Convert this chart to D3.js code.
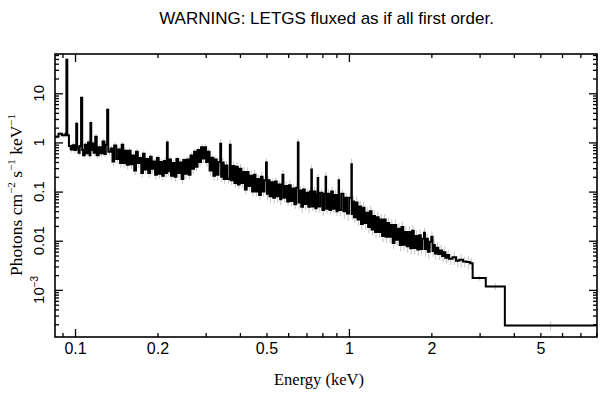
<!DOCTYPE html>
<html><head><meta charset="utf-8">
<script src="https://cdn.jsdelivr.net/npm/d3@7"></script>
<style>body{margin:0;background:#fff}svg{display:block}</style>
</head><body>
<svg id="c" width="609" height="399"></svg>
<script>
// Bin lower edges (keV)
const energy = [
0.0845,0.0870,0.0896,0.0923,0.0930,0.0937,0.0950,0.0965,0.0980,0.0995,
0.1010,0.1018,0.1030,0.1040,0.1052,0.1062,0.107,0.1085,0.110,0.1115,
0.113,0.1138,0.1146,0.1158,0.117,0.1185,0.120,0.122,0.124,0.126,
0.128,0.1295,0.131,0.1322,
0.135,0.137,0.139,0.1415,0.144,0.146,0.148,0.150,0.152,0.1545,
0.157,0.1595,0.162,0.1645,0.167,0.1695,0.172,0.1745,0.177,0.1795,
0.182,0.185,0.188,0.1905,0.193,0.196,0.199,0.202,0.205,0.208,
0.211,0.2140,0.2165,0.2180,0.221,0.224,0.2275,0.231,0.2345,0.238,
0.2415,0.245,0.2485,0.252,0.256,0.260,0.264,0.268,0.272,0.276,
0.280,0.284,0.2885,0.293,0.297,0.301,0.3055,0.310,0.315,0.320,
0.3245,0.329,0.334,0.339,0.3415,0.345,0.349,0.3545,0.360,0.3675,
0.3700,0.376,0.382,0.3875,0.393,0.399,0.405,0.411,0.417,0.4235,
0.430,0.4365,0.443,0.4495,0.456,0.463,0.470,0.477,0.484,0.491,
0.498,0.5015,0.507,0.513,0.521,0.529,0.537,0.545,0.553,0.561,
0.5665,0.572,0.5765,0.5855,0.595,0.604,0.613,0.6225,0.632,0.6415,
0.651,0.6545,0.662,0.670,0.680,0.690,0.7005,0.711,0.720,0.729,
0.7325,0.743,0.754,0.7615,0.769,0.7725,0.786,0.800,0.811,0.822,
0.8255,0.837,0.849,0.8615,0.874,0.8875,0.901,0.909,0.917,0.9205,
0.9375,0.955,0.9695,0.984,1.002,1.021,1.025,1.0345,1.044,1.0595,
1.075,1.091,1.107,1.1235,1.140,1.1575,1.175,1.1925,1.210,1.228,
1.246,1.265,1.284,1.303,1.322,1.342,1.362,1.3825,1.403,1.424,
1.445,1.4665,1.488,1.5105,1.533,1.556,1.579,1.6025,1.626,1.6505,
1.675,1.70,1.725,1.751,1.777,1.8035,1.830,1.855,1.880,1.895,
1.9185,1.942,1.971,2.000,2.020,2.04,2.06,2.09,2.12,2.155,
2.19,2.22,2.25,2.285,2.32,2.39,2.46,2.53,2.61,2.69,
2.77,2.83,3.16,3.71];
const energyEnd = 8.0;
// Flux (Photons cm^-2 s^-1 keV^-1)
const flux = [
1.3,1.5,1.4,1.5,48,1.4,0.85,0.72,0.88,0.7,
2.4,0.8,0.62,0.85,8.1,0.7,0.55,0.9,0.6,1.0,
0.55,2.5,0.7,0.95,0.62,1.3,0.55,0.8,0.6,1.05,
0.58,0.9,4.6,0.65,
.75,.41,.87,.46,.72,.38,.9,.38,.68,.35,
.68,.36,.54,.27,.65,.38,.48,.24,.59,.28,
.46,.24,.51,.29,.41,.22,.48,.23,.4,.21,
.42,.24,1.0,.26,.45,.21,.38,.2,.46,.24,
.39,.18,.44,.23,.45,.22,.54,.29,.65,.32,
.7,.4,.8,.47,.8,.4,.65,.27,.49,.21,
.45,.22,.4,.94,.2,.39,.18,.34,.18,.9,
.17,.33,.15,.32,.14,.29,.15,.25,.11,.25,
.13,.21,.1,.22,.1,.18,.085,.2,.1,.17,
.39,.09,.17,.08,.155,.075,.16,.08,.14,.07,
.14,.22,.075,.13,.063,.135,.064,.115,.055,.12,
1.0,.06,.105,.049,.11,.056,.095,.049,.1,.28,
.05,.1,.046,.088,.19,.05,.095,.042,.09,.2,
.045,.09,.042,.1,.045,.085,.04,.085,.17,.042,
.09,.04,.075,.036,.075,.36,.035,.063,.03,.06,
.027,.05,.022,.047,.023,.037,.019,.04,.017,.032,
.015,.03,.015,.027,.0125,.027,.012,.023,.012,.021,
.009,.021,.0105,.0175,.0082,.019,.0083,.015,.0077,.015,
.007,.016,.0071,.0125,.0066,.013,.0068,.011,.0146,.0068,
.011,.006,.0095,.012,.0062,.0082,.0055,.0072,.0054,.0063,
.0049,.0058,.0045,.0051,.0043,.0046,.0039,.0041,.0038,.0037,
.0035,.00175,.00117,.000188];
// Relative 1-sigma errors
const relErr = [
.12,.12,.12,.12,.05,.12,.15,.15,.15,.15,
.12,.15,.15,.15,.05,.15,.15,.15,.15,.15,
.15,.12,.15,.15,.15,.15,.15,.15,.15,.15,
.15,.15,.08,.15,
.15,.2,.15,.2,.15,.2,.15,.2,.15,.2,
.15,.2,.15,.2,.15,.2,.15,.2,.15,.2,
.15,.2,.15,.2,.15,.2,.15,.2,.15,.2,
.15,.2,.15,.2,.15,.2,.15,.2,.15,.2,
.15,.2,.15,.2,.15,.2,.15,.2,.15,.2,
.15,.2,.15,.2,.15,.2,.15,.2,.15,.2,
.2,.25,.2,.25,.2,.25,.2,.25,.2,.25,
.2,.25,.2,.25,.2,.25,.2,.25,.2,.25,
.2,.25,.2,.25,.2,.25,.2,.25,.2,.25,
.2,.25,.2,.25,.2,.25,.2,.25,.2,.25,
.2,.25,.2,.25,.2,.25,.2,.25,.2,.25,
.2,.25,.2,.25,.2,.25,.2,.25,.2,.25,
.2,.25,.2,.25,.2,.25,.2,.25,.2,.25,
.2,.25,.2,.25,.2,.25,.2,.25,.2,.25,
.25,.3,.25,.3,.25,.3,.25,.3,.25,.3,
.25,.3,.25,.3,.25,.3,.25,.3,.25,.3,
.25,.3,.25,.3,.25,.3,.25,.3,.25,.3,
.25,.3,.25,.3,.25,.3,.25,.3,.25,.3,
.25,.3,.25,.3,.25,.3,.25,.3,.25,.3,
.25,.3,.25,.3,.25,.3,.25,.3,.25,.3,
.25,.3,.25,.3,.25,.3,.25,.3,.25,.3,
.25,.12,.15,.2];

const xLabelTicks = [0.1, 0.2, 0.5, 1, 2, 5];
const xMajorTicks = [0.1, 1];
const yLabelTicks = [1e-3, 0.01, 0.1, 1, 10];
const yLabelText = [["10","\u22123"], ["0.01"], ["0.1"], ["1"], ["10"]];
const titleText = "WARNING: LETGS fluxed as if all first order.";
const xTitle = "Energy (keV)";

const L = 55, R = 597, T = 54, B = 337;
const svg = d3.select("#c");
const x = d3.scaleLog().domain([0.0845, 8.05]).range([L, R]);
const y = d3.scaleLog().domain([1.1e-4, 63]).range([B, T]);

const SANS = "'Liberation Sans', Arial, Helvetica, sans-serif";
const SERIF = "'Liberation Serif', 'Times New Roman', serif";

// error bars
const bins = energy.map((e, i) => ({
  lo: e, hi: i < energy.length - 1 ? energy[i + 1] : energyEnd, v: flux[i], r: relErr[i]
}));
svg.append("g").selectAll("line").data(bins).join("line")
  .attr("x1", d => x(Math.sqrt(d.lo * d.hi))).attr("x2", d => x(Math.sqrt(d.lo * d.hi)))
  .attr("y1", d => y(d.v * (1 - d.r))).attr("y2", d => y(d.v * (1 + d.r)))
  .attr("stroke", "#c4c4c4").attr("stroke-width", 1);

// step spectrum
const pts = energy.map((e, i) => [e, flux[i]]);
pts.push([energyEnd, flux[flux.length - 1]]);
const line = d3.line().x(d => x(d[0])).y(d => y(d[1])).curve(d3.curveStepAfter);
svg.append("path").attr("d", line(pts)).attr("fill", "none")
  .attr("stroke", "#000").attr("stroke-width", 2).attr("stroke-linejoin", "miter");

// ticks
const isDecade = v => Math.abs(Math.log10(v) - Math.round(Math.log10(v))) < 1e-6;
const xMinor = x.ticks().filter(v => !xMajorTicks.some(m => Math.abs(m - v) < 1e-9));
const yAll = y.ticks();
const yMajor = yAll.filter(isDecade);
const yMinor = yAll.filter(v => !isDecade(v));

function tickGroup(axisFn, transform, vals, size) {
  const g = svg.append("g").attr("transform", transform)
    .call(axisFn.tickValues(vals).tickSize(size).tickFormat(""));
  g.select(".domain").remove();
  g.selectAll("line").attr("stroke", "#000").attr("stroke-width", 1.3);
}
tickGroup(d3.axisBottom(x), `translate(0,${B})`, xMinor, -4);
tickGroup(d3.axisBottom(x), `translate(0,${B})`, xMajorTicks, -8);
tickGroup(d3.axisTop(x), `translate(0,${T})`, xMinor, -4);
tickGroup(d3.axisTop(x), `translate(0,${T})`, xMajorTicks, -8);
tickGroup(d3.axisLeft(y), `translate(${L},0)`, yMinor, -4);
tickGroup(d3.axisLeft(y), `translate(${L},0)`, yMajor, -8);
tickGroup(d3.axisRight(y), `translate(${R},0)`, yMinor, -4);
tickGroup(d3.axisRight(y), `translate(${R},0)`, yMajor, -8);

// frame
svg.append("rect").attr("x", L).attr("y", T).attr("width", R - L).attr("height", B - T)
  .attr("fill", "none").attr("stroke", "#000").attr("stroke-width", 1.6);

// x tick labels
const xl = svg.append("g").attr("transform", `translate(0,${B})`)
  .call(d3.axisBottom(x).tickValues(xLabelTicks).tickSize(0).tickPadding(6).tickFormat(d3.format("")));
xl.select(".domain").remove();
xl.selectAll("text").attr("font-family", SANS).attr("font-size", 16).attr("fill", "#000");

// y tick labels (rotated)
const yl = svg.append("g").selectAll("text").data(yLabelTicks).join("text")
  .attr("transform", d => `translate(43.5,${y(d)}) rotate(-90)`)
  .attr("text-anchor", "middle").attr("font-family", SANS).attr("font-size", 15).attr("fill", "#000");
yl.each(function (d, i) {
  const t = d3.select(this); const parts = yLabelText[i];
  t.append("tspan").text(parts[0]);
  if (parts[1]) t.append("tspan").attr("font-size", 10).attr("dy", -6).text(parts[1]);
});

// y title
const yt = svg.append("text").attr("transform", "translate(22,195) rotate(-90)")
  .attr("text-anchor", "middle").attr("font-family", SERIF).attr("font-size", 17.5).attr("fill", "#000");
[["Photons cm", 0], ["\u22122", 1], [" s", 0], ["\u22121", 1], [" keV", 0], ["\u22121", 1]].forEach(([s, sup], i) => {
  const ts = yt.append("tspan").text(s);
  if (sup) ts.attr("font-size", 11).attr("dy", -7);
  else if (i > 0) ts.attr("dy", 7);
});

// x title
svg.append("text").attr("x", 319).attr("y", 385).attr("text-anchor", "middle")
  .attr("font-family", SERIF).attr("font-size", 16.5).attr("fill", "#000").text(xTitle);

// title
svg.append("text").attr("x", 326.5).attr("y", 24).attr("text-anchor", "middle")
  .attr("font-family", SANS).attr("font-size", 17).attr("fill", "#000").text(titleText);
</script>
</body></html>
